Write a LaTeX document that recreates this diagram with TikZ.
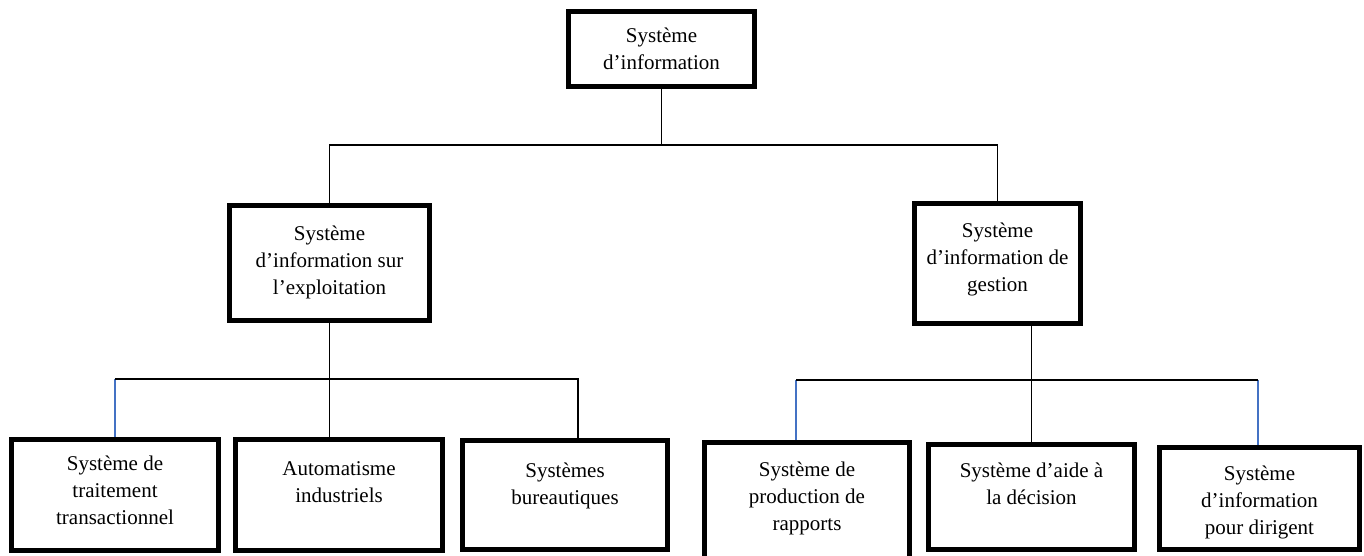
\documentclass[tikz,border=0pt]{standalone}
\usepackage{fontspec}
\setmainfont{Liberation Serif}
\usetikzlibrary{calc}
\definecolor{linkblue}{HTML}{4472C4}
\newcommand{\bt}[4]{\parbox[b][#2pt][t]{#1pt}{\centering\rule{0pt}{#3pt}#4}}
\begin{document}
\begin{tikzpicture}[x=1pt,y=-1pt,
  box/.style={draw,line width=5pt,inner sep=0pt,outer sep=2.5pt,rectangle,font=\fontsize{21}{27}\selectfont},
  conn/.style={line width=1.6pt,black},
  bconn/.style={line width=1.6pt,draw=linkblue}]
\fill[white] (0,0) rectangle (1364,556);
\useasboundingbox (0,0) rectangle (1364,556);
\clip (0,0) rectangle (1364,556);
% boxes
\node[box] (A) at (661.5,49) {\bt{186}{75}{31.5}{Système\\d’information}};
\node[box] (B) at (329.5,263) {\bt{200}{115}{34.5}{Système\\d’information sur\\l’exploitation}};
\node[box] (C) at (997.5,263.5) {\bt{166}{120}{33.5}{Système\\d’information de\\gestion}};
\node[box] (D1) at (115,495) {\bt{207}{111}{31}{Système de\\traitement\\transactionnel}};
\node[box] (D2) at (339,495) {\bt{207}{111}{35.5}{Automatisme\\industriels}};
\node[box] (D3) at (565,495) {\bt{205}{109}{36.5}{Systèmes\\bureautiques}};
\node[box] (D4) at (807,501) {\bt{205}{117}{33.5}{Système de\\production de\\rapports}};
\node[box] (D5) at (1031.5,497) {\bt{206}{105}{32.5}{Système d’aide à\\la décision}};
\node[box] (D6) at (1259.5,498.5) {\bt{200}{102}{32.5}{Système\\d’information\\pour dirigent}};
% helper coordinates
\coordinate (hA) at (0,145);
\coordinate (hB) at (0,379);
\coordinate (hC) at (0,380);
\coordinate (d3c) at (578,379);
\coordinate (d4c) at (796,380);
\coordinate (d6c) at (1258,380);
% top level
\draw[conn] (A.south) -- (A.south |- hA);
\draw[conn] (B.north) -- (B.north |- hA) -| (C.north);
% left branch
\draw[bconn] (D1.north |- hB) -- (D1.north);
\draw[conn] (D1.north |- hB) -- (d3c) -- (d3c |- D3.north);
\draw[conn] (B.south) -- (B.south |- D2.north);
% right branch
\draw[bconn] (d4c) -- (d4c |- D4.north);
\draw[bconn] (d6c) -- (d6c |- D6.north);
\draw[conn] (d4c) -- (d6c);
\draw[conn] (C.south -| D5.north) -- (D5.north);
\end{tikzpicture}
\end{document}
